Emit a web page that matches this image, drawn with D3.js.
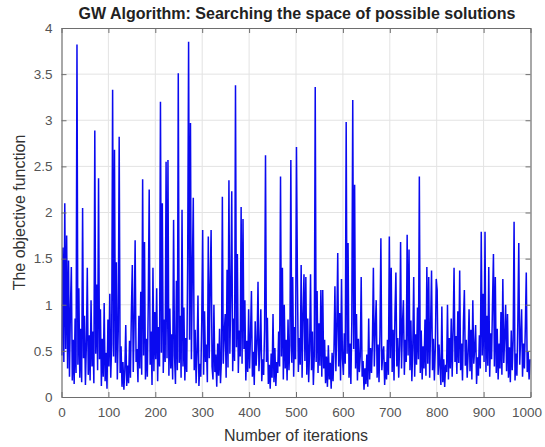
<!DOCTYPE html>
<html>
<head>
<meta charset="utf-8">
<script src="https://cdn.jsdelivr.net/npm/d3@7"></script>
<style>
  html, body { margin: 0; padding: 0; background: #fff; }
  svg { display: block; font-family: "Liberation Sans", Arial, sans-serif; }
</style>
</head>
<body>
<svg id="chart" width="545" height="447"></svg>
<script>
// Objective function value recorded at every other iteration (1, 3, 5, ... 999)
const objective = [
  0.45, 1.62, 0.38, 2.10, 0.52, 1.75, 0.31, 1.48, 0.22, 0.95,
  1.41, 0.18, 0.62, 0.14, 0.85, 0.26, 3.82, 0.35, 1.18, 0.21,
  0.74, 0.16, 2.05, 0.42, 0.88, 0.13, 0.56, 1.40, 0.24, 0.67,
  0.18, 1.05, 0.33, 0.71, 0.15, 2.89, 0.47, 1.22, 0.29, 2.37,
  0.41, 0.95, 0.12, 0.63, 0.22, 1.02, 0.17, 0.48, 0.09, 0.84,
  0.33, 1.12, 0.21, 0.58, 3.33, 0.44, 2.68, 0.37, 1.46, 0.19,
  0.72, 2.82, 0.26, 0.55, 0.11, 0.38, 0.08, 0.29, 0.78, 0.12,
  0.34, 0.15, 0.61, 0.21, 0.93, 1.43, 0.27, 0.82, 1.70, 0.38,
  0.52, 0.16, 0.88, 0.31, 1.14, 0.24, 2.36, 0.45, 1.68, 0.19,
  0.63, 0.22, 1.02, 2.25, 0.35, 0.71, 0.13, 1.40, 0.28, 0.92,
  0.41, 1.18, 0.17, 0.76, 0.33, 3.20, 0.48, 2.10, 0.26, 0.84,
  0.38, 2.55, 0.42, 2.57, 0.23, 0.96, 0.31, 0.68, 0.19, 1.92,
  0.45, 0.14, 1.26, 0.29, 3.51, 0.37, 0.88, 0.21, 2.03, 0.33,
  0.97, 0.18, 0.64, 0.27, 1.45, 3.85, 0.62, 2.97, 0.41, 1.36,
  2.16, 0.29, 0.73, 0.15, 0.48, 1.10, 0.12, 0.36, 0.22, 0.81,
  1.81, 0.24, 0.93, 0.38, 0.57, 0.16, 1.74, 0.42, 1.21, 1.81,
  0.33, 0.19, 1.00, 0.27, 0.46, 0.11, 0.58, 0.23, 0.74, 0.15,
  0.41, 2.17, 0.36, 0.68, 0.90, 0.21, 1.38, 0.32, 2.35, 0.47,
  1.12, 2.23, 0.28, 0.85, 0.39, 3.38, 0.54, 1.55, 0.26, 0.72,
  0.44, 2.06, 0.36, 1.93, 0.52, 1.05, 0.18, 0.61, 0.27, 0.95,
  0.31, 0.67, 1.15, 0.22, 0.49, 0.13, 0.82, 0.34, 0.58, 1.25,
  0.28, 0.52, 0.95, 0.17, 0.41, 0.24, 0.73, 2.62, 0.38, 0.86,
  0.14, 0.35, 0.09, 0.47, 0.21, 0.90, 0.16, 0.53, 0.12, 0.38,
  0.26, 0.71, 0.33, 2.39, 0.44, 1.40, 0.19, 1.00, 0.31, 0.62,
  0.18, 0.84, 0.29, 0.56, 2.57, 0.37, 1.30, 0.22, 0.76, 0.41,
  2.71, 1.30, 0.27, 0.64, 0.35, 1.43, 0.21, 0.88, 1.33, 0.39,
  1.30, 0.24, 0.85, 0.16, 0.52, 1.33, 0.29, 0.71, 0.13, 0.46,
  3.36, 0.38, 1.15, 0.26, 0.80, 0.34, 1.16, 0.22, 1.16, 0.31,
  0.62, 0.15, 0.44, 0.11, 0.56, 0.19, 0.37, 0.09, 0.48, 0.17,
  0.52, 1.20, 0.28, 0.74, 1.56, 0.33, 0.91, 0.18, 1.28, 0.42,
  0.24, 0.69, 0.36, 2.98, 0.47, 1.67, 0.21, 0.58, 0.14, 0.83,
  3.22, 0.52, 2.30, 0.31, 0.90, 0.18, 0.63, 0.27, 0.44, 1.30,
  0.22, 0.39, 0.08, 0.31, 0.14, 0.46, 0.11, 0.85, 0.19, 0.53,
  0.26, 0.61, 1.40, 0.33, 0.74, 1.05, 0.21, 0.57, 0.16, 0.68,
  1.72, 0.29, 0.47, 0.55, 0.13, 0.38, 0.19, 0.62, 0.24, 1.74,
  0.42, 1.40, 0.27, 0.73, 0.18, 0.91, 1.35, 0.33, 0.64, 0.21,
  0.56, 1.68, 0.31, 0.79, 1.05, 0.24, 0.62, 0.38, 1.76, 0.45,
  1.60, 0.29, 0.83, 0.17, 0.54, 1.30, 0.22, 0.68, 0.35, 0.97,
  0.41, 2.39, 0.26, 0.72, 0.19, 0.55, 0.31, 0.84, 0.23, 1.41,
  0.36, 1.30, 0.21, 0.77, 1.37, 0.29, 0.63, 0.18, 0.52, 1.28,
  1.16, 0.24, 0.57, 0.33, 0.13, 0.98, 0.16, 0.41, 0.11, 0.35,
  0.27, 1.00, 0.19, 0.64, 0.31, 0.85, 0.22, 0.71, 1.40, 0.38,
  0.66, 0.25, 0.93, 0.37, 1.37, 0.29, 0.58, 0.18, 0.81, 1.16,
  0.34, 0.62, 0.21, 0.47, 0.95, 0.28, 0.73, 0.19, 1.05, 0.36,
  0.52, 0.78, 0.14, 0.43, 0.23, 0.67, 0.31, 1.79, 0.45, 1.12,
  0.38, 1.79, 0.27, 0.88, 0.34, 1.41, 0.22, 0.69, 0.41, 1.02,
  1.55, 0.33, 1.30, 0.26, 0.74, 0.19, 0.58, 0.31, 0.92, 0.24,
  1.28, 0.37, 0.66, 1.00, 0.28, 0.90, 0.21, 0.54, 0.16, 0.72,
  0.29, 0.61, 1.90, 0.18, 0.47, 0.23, 0.82, 1.67, 0.35, 0.64,
  0.95, 0.22, 0.58, 0.31, 0.76, 1.35, 0.27, 0.49, 0.19, 0.41
];
const iterations = objective.map((_, i) => 1 + 2 * i);

const xTicks = [0, 100, 200, 300, 400, 500, 600, 700, 800, 900, 1000];
const yTicks = [0, 0.5, 1, 1.5, 2, 2.5, 3, 3.5, 4];

const titleText = "GW Algorithm: Searching the space of possible solutions";
const xLabelText = "Number of iterations";
const yLabelText = "The objective function";

const width = 545, height = 447;
const margin = { top: 28, right: 14.5, bottom: 50, left: 61.5 };
const innerW = width - margin.left - margin.right;
const innerH = height - margin.top - margin.bottom;

const svg = d3.select("#chart");
const g = svg.append("g").attr("transform", `translate(${margin.left},${margin.top})`);

const x = d3.scaleLinear().domain([0, 1000]).range([0, innerW]);
const y = d3.scaleLinear().domain([0, 4]).range([innerH, 0]);

// grid
g.append("g").selectAll("line").data(xTicks.slice(1, -1)).join("line")
  .attr("x1", d => x(d)).attr("x2", d => x(d))
  .attr("y1", 0).attr("y2", innerH)
  .attr("stroke", "#e3e3e3").attr("stroke-width", 1);
g.append("g").selectAll("line").data(yTicks.slice(1, -1)).join("line")
  .attr("x1", 0).attr("x2", innerW)
  .attr("y1", d => y(d)).attr("y2", d => y(d))
  .attr("stroke", "#e3e3e3").attr("stroke-width", 1);

// data line
const line = d3.line().x((d, i) => x(iterations[i])).y(d => y(d));
g.append("path")
  .datum(objective)
  .attr("fill", "none")
  .attr("stroke", "#0a0af0")
  .attr("stroke-width", 1.5)
  .attr("stroke-linejoin", "miter")
  .attr("d", line);

// axes (ticks pointing inward, box on all sides)
const axisColor = "#6e6e6e";
const labelColor = "#555";
const fmt = d => String(d);

const xAxis = g.append("g").attr("transform", `translate(0,${innerH})`)
  .call(d3.axisBottom(x).tickValues(xTicks).tickFormat(fmt).tickSizeInner(-5).tickSizeOuter(0).tickPadding(10));
const xTop = g.append("g")
  .call(d3.axisTop(x).tickValues(xTicks).tickFormat("").tickSizeInner(-5).tickSizeOuter(0));
const yAxis = g.append("g")
  .call(d3.axisLeft(y).tickValues(yTicks).tickFormat(fmt).tickSizeInner(-5).tickSizeOuter(0).tickPadding(9));
const yRight = g.append("g").attr("transform", `translate(${innerW},0)`)
  .call(d3.axisRight(y).tickValues(yTicks).tickFormat("").tickSizeInner(-5).tickSizeOuter(0));

[xAxis, xTop, yAxis, yRight].forEach(a => {
  a.select(".domain").attr("stroke", axisColor).attr("stroke-width", 1.2);
  a.selectAll(".tick line").attr("stroke", axisColor);
  a.selectAll(".tick text").attr("fill", labelColor).attr("font-size", 13.5)
    .attr("font-family", "'Liberation Sans', Arial, sans-serif");
});
// keep the last x label inside the frame
xAxis.selectAll(".tick text").filter(d => d === 1000).attr("dx", -4);

// titles
svg.append("text")
  .attr("x", margin.left + innerW / 2 + 1).attr("y", 19)
  .attr("text-anchor", "middle")
  .attr("font-size", 16).attr("font-weight", "bold").attr("fill", "#222")
  .text(titleText);

svg.append("text")
  .attr("x", margin.left + innerW / 2).attr("y", 441)
  .attr("text-anchor", "middle")
  .attr("font-size", 16).attr("fill", "#333")
  .text(xLabelText);

svg.append("text")
  .attr("transform", `translate(25,${margin.top + innerH / 2}) rotate(-90)`)
  .attr("text-anchor", "middle")
  .attr("font-size", 16).attr("fill", "#333")
  .text(yLabelText);
</script>
</body>
</html>
